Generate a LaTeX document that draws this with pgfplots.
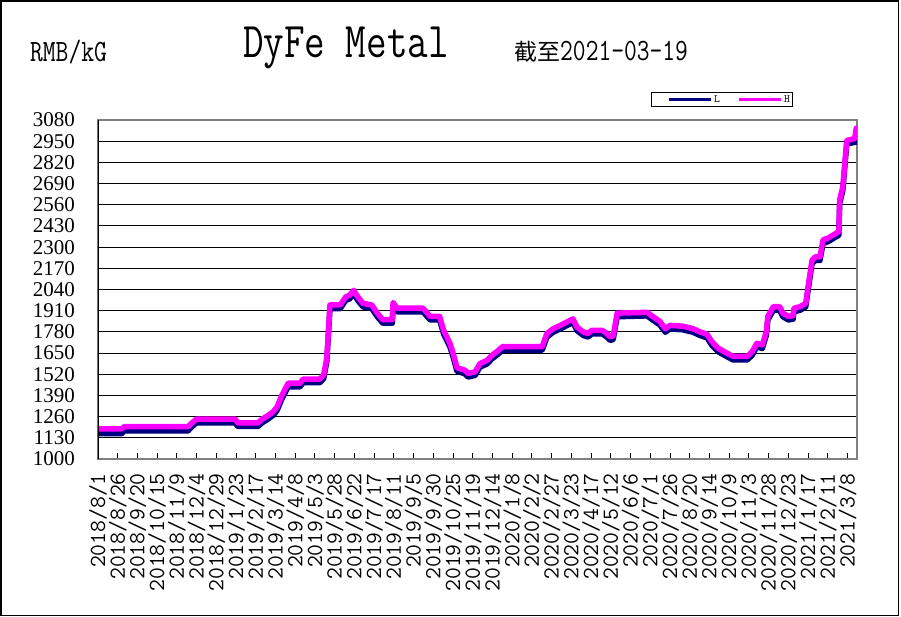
\documentclass[border=0pt]{standalone}
\usepackage{fontspec}
\setmainfont{Liberation Serif}
\newfontfamily\tmono[FakeStretch=0.8]{Latin Modern Mono}
\newfontfamily\mono{Latin Modern Mono}
\newfontfamily\cjk{Noto Sans CJK SC}
\usepackage{pgfplots}
\pgfplotsset{compat=1.18}
\usepackage{pgfplotstable}
\definecolor{navyL}{RGB}{0,0,128}
\definecolor{magH}{RGB}{255,0,255}
\definecolor{frameG}{RGB}{128,128,128}

\pgfplotstableread{
day H
0 1185
30 1185
33 1198
114 1198
119 1222
125 1245
174 1245
177 1222
203 1222
208 1245
215 1265
222 1290
227 1320
233 1390
241 1465
256 1465
260 1490
281 1490
286 1515
290 1620
294 1945
307 1945
314 1995
319 2005
324 2035
330 1990
336 1955
347 1945
354 1895
361 1855
373 1855
374 1960
379 1925
412 1925
421 1875
433 1875
438 1790
446 1710
450 1650
455 1560
465 1545
469 1525
478 1535
484 1585
493 1605
499 1635
507 1665
513 1690
563 1690
569 1770
577 1800
586 1820
594 1840
602 1860
607 1810
615 1780
621 1770
626 1790
639 1790
645 1770
649 1750
653 1755
658 1895
696 1900
703 1875
712 1845
719 1800
725 1820
741 1815
754 1800
763 1780
772 1765
778 1720
786 1680
797 1650
805 1630
823 1630
829 1658
835 1710
842 1700
847 1780
849 1875
856 1935
864 1935
868 1895
875 1875
881 1880
882 1925
890 1935
897 1955
899 2025
905 2220
909 2240
915 2240
919 2345
925 2355
939 2395
940 2590
944 2670
949 2955
959 2965
961 3030
}\Hdata

\pgfplotstableread{
day L
0 1155
30 1155
33 1172
114 1172
119 1198
125 1222
174 1222
177 1200
203 1200
208 1222
215 1243
222 1268
227 1298
233 1368
241 1443
256 1443
260 1468
281 1468
286 1493
290 1598
294 1923
307 1923
314 1973
319 1983
324 2013
330 1968
336 1933
347 1923
354 1873
361 1833
373 1833
374 1938
379 1903
412 1903
421 1853
433 1853
438 1768
446 1688
450 1628
455 1538
465 1523
469 1503
478 1513
484 1563
493 1583
499 1613
507 1643
513 1668
563 1668
569 1748
577 1778
586 1798
594 1818
602 1838
607 1788
615 1758
621 1748
626 1768
639 1768
645 1748
649 1728
653 1733
658 1873
696 1878
703 1853
712 1823
719 1778
725 1798
741 1793
754 1778
763 1758
772 1743
778 1698
786 1658
797 1628
805 1608
823 1608
829 1636
835 1688
842 1678
847 1758
849 1853
856 1913
864 1913
868 1873
875 1853
881 1858
882 1903
890 1913
897 1933
899 2003
905 2198
909 2218
915 2218
919 2323
925 2333
939 2373
940 2568
944 2648
949 2933
961 2945
}\Ldata

\begin{document}
\begin{tikzpicture}
\useasboundingbox (0bp,0bp) rectangle (901bp,-617bp);
\draw[line width=1.5bp] (1bp,-1bp) rectangle (898.5bp,-615.5bp);
\node[anchor=west,inner sep=0pt] at (30bp,-52bp) {\tmono\fontsize{31bp}{31bp}\selectfont RMB/kG};
\node[inner sep=0pt] at (346bp,-48bp) {\tmono\fontsize{50bp}{50bp}\selectfont DyFe Metal};
\node[anchor=west,inner sep=0pt] at (514bp,-52bp) {\cjk\fontsize{23bp}{23bp}\selectfont 截至\tmono\fontsize{31bp}{31bp}\selectfont 2021-03-19};
\begin{axis}[
  at={(98bp,-459bp)}, anchor=south west,
  width=759bp, height=339bp, scale only axis,
  xmin=0, xmax=962, ymin=1000, ymax=3080,
  /pgf/number format/1000 sep={},
  /pgf/number format/assume math mode=true,
  scaled ticks=false,
  ytick={1000,1130,...,3080},
  xtick={0,25,...,950},
  xticklabels={2018/8/1,2018/8/26,2018/9/20,2018/10/15,2018/11/9,2018/12/4,2018/12/29,2019/1/23,2019/2/17,2019/3/14,2019/4/8,2019/5/3,2019/5/28,2019/6/22,2019/7/17,2019/8/11,2019/9/5,2019/9/30,2019/10/25,2019/11/19,2019/12/14,2020/1/8,2020/2/2,2020/2/27,2020/3/23,2020/4/17,2020/5/12,2020/6/6,2020/7/1,2020/7/26,2020/8/20,2020/9/14,2020/10/9,2020/11/3,2020/11/28,2020/12/23,2021/1/17,2021/2/11,2021/3/8},
  xticklabel style={rotate=90, anchor=east, inner sep=0pt, font=\mono\fontsize{23bp}{23bp}\selectfont},
  xticklabel shift=14bp,
  yticklabel style={anchor=east, inner sep=0pt, font=\fontsize{21bp}{21bp}\selectfont},
  yticklabel shift=23bp,
  xtick pos=bottom, ytick pos=left,
  tick align=inside,
  x tick style={black, line width=1bp},
  major tick length=6bp,
  y tick style={draw=none},
  ymajorgrids,
  major grid style={black, line width=1.1bp},
  axis line style={frameG, line width=1.6bp},
  legend style={at={(0.7286,1.0605)}, anchor=west, draw=black, line width=0.8bp,
    inner sep=1bp, legend columns=2,
    font=\mono\fontsize{11bp}{11bp}\selectfont,
    nodes={inner sep=1.5bp},
    /tikz/every even column/.append style={column sep=1bp}},
  legend image code/.code={\path (0bp,0bp); \draw[#1, line width=3bp, line cap=butt] (14bp,0bp) -- (56bp,0bp);},
]
\addplot[navyL, line width=5.5bp, line join=round, line cap=round] table[x=day, y=L] {\Ldata};
\addlegendentry{L}
\addplot[magH, line width=5.5bp, line join=round, line cap=round] table[x=day, y=H] {\Hdata};
\addlegendentry{H}
\draw[black, line width=1.6bp] (rel axis cs:0,0) -- (rel axis cs:0,1);
\end{axis}
\end{tikzpicture}
\end{document}
